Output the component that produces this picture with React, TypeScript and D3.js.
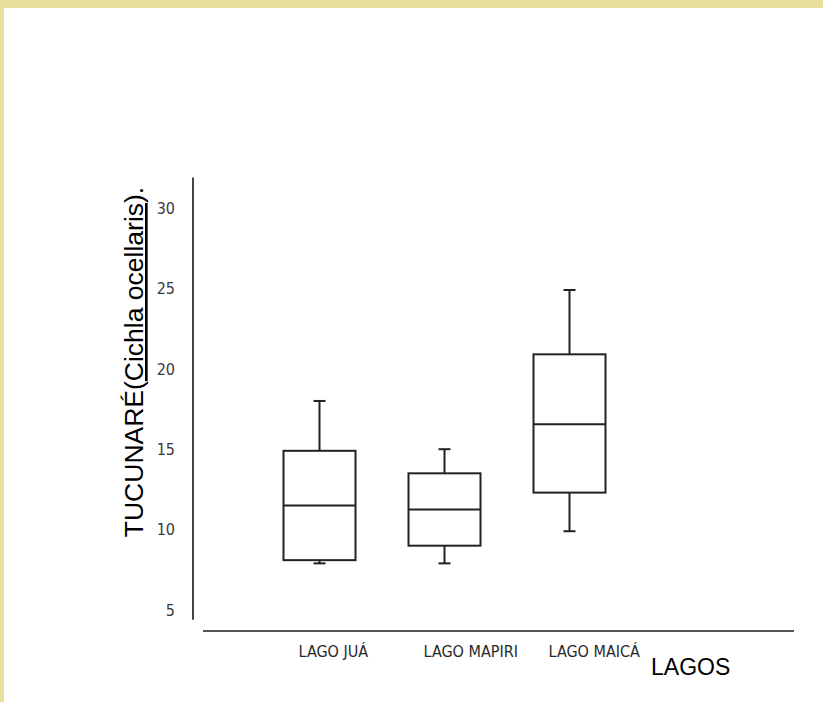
import React from "react";
import * as d3 from "d3";

const lakes = ["LAGO JUÁ", "LAGO MAPIRI", "LAGO MAICÁ"];
const whiskerLow = [7.9, 7.9, 9.9];
const q1 = [8.1, 9.0, 12.3];
const medians = [11.5, 11.25, 16.55];
const q3 = [14.9, 13.5, 20.9];
const whiskerHigh = [18, 15, 24.9];
const yTicks = [5, 10, 15, 20, 25, 30];

const W = 823;
const H = 702;
const smallFont = "'DejaVu Sans Condensed', 'DejaVu Sans', sans-serif";

export default function App() {
  const y = d3.scaleLinear().domain([5, 30]).range([610, 208]);
  const x = d3
    .scaleBand<string>()
    .domain(lakes)
    .range([230.5, 658.5])
    .paddingInner(0.424)
    .paddingOuter(0.424);
  const bw = x.bandwidth();
  const cap = 12;
  const stroke = "#222";

  return (
    <svg
      width={W}
      height={H}
      style={{ position: "absolute", left: 0, top: 0, background: "#fff" }}
    >
      <rect x={0} y={0} width={W} height={8} fill="#E9DF9C" />
      <rect x={0} y={0} width={4} height={H} fill="#E9DF9C" />

      {/* y axis line */}
      <line x1={193} x2={193} y1={y(31.9)} y2={y(4.4)} stroke="#444" strokeWidth={2} />
      {/* x axis line */}
      <line x1={203} x2={794} y1={631} y2={631} stroke="#555" strokeWidth={2} />

      {yTicks.map((t) => (
        <text
          key={t}
          x={175}
          y={y(t)}
          dy="0.36em"
          textAnchor="end"
          fontFamily={smallFont}
          fontStretch="condensed"
          fontSize={16}
          fill="#3a3a3a"
        >
          {t}
        </text>
      ))}

      {lakes.map((l, i) => {
        const x0 = x(l)!;
        const cx = x0 + bw / 2;
        return (
          <g key={l} stroke={stroke} strokeWidth={2} fill="none">
            <line x1={cx} x2={cx} y1={y(whiskerHigh[i])} y2={y(q3[i])} />
            <line x1={cx} x2={cx} y1={y(q1[i])} y2={y(whiskerLow[i])} />
            <line x1={cx - cap / 2} x2={cx + cap / 2} y1={y(whiskerHigh[i])} y2={y(whiskerHigh[i])} />
            <line x1={cx - cap / 2} x2={cx + cap / 2} y1={y(whiskerLow[i])} y2={y(whiskerLow[i])} />
            <rect x={x0} y={y(q3[i])} width={bw} height={y(q1[i]) - y(q3[i])} fill="#fff" />
            <line x1={x0} x2={x0 + bw} y1={y(medians[i])} y2={y(medians[i])} />
          </g>
        );
      })}

      {lakes.map((l) => (
        <text
          key={"lab" + l}
          x={x(l)! + bw / 2 - 21}
          y={657}
          textAnchor="start"
          fontFamily={smallFont}
          fontStretch="condensed"
          fontSize={16}
          fill="#2a2a2a"
        >
          {l}
        </text>
      ))}

      <text
        x={651}
        y={675}
        fontFamily="'Liberation Sans', Arial, sans-serif"
        fontSize={23}
        fill="#000"
      >
        LAGOS
      </text>

      <text
        transform={`translate(143,362) rotate(-90)`}
        textAnchor="middle"
        fontFamily="'Liberation Sans', Arial, sans-serif"
        fontSize={26.5}
        fill="#000"
      >
        TUCUNARÉ(
        <tspan style={{ textDecoration: "underline" }}>Cichla ocellaris</tspan>
        ).
      </text>
    </svg>
  );
}
